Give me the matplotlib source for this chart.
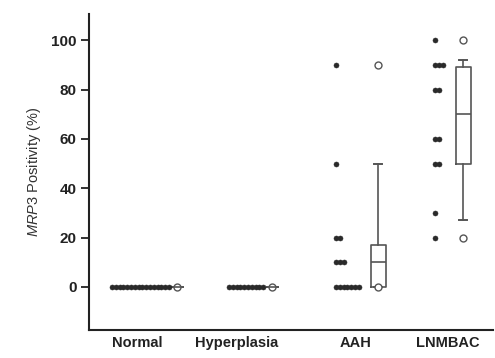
import numpy as np
import matplotlib
matplotlib.use("Agg")
import matplotlib.pyplot as plt

plt.rcParams["font.family"] = ["Liberation Sans", "DejaVu Sans"]
plt.rcParams["mathtext.fontset"] = "custom"
plt.rcParams["mathtext.it"] = "Liberation Sans:italic"
plt.rcParams["mathtext.rm"] = "Liberation Sans"

# data: values and number of cases at each value
categories = ["Normal", "Hyperplasia", "AAH", "LNMBAC"]
normal_vals = [0]
normal_counts = [16]
hyper_vals = [0]
hyper_counts = [10]
aah_vals = [0, 10, 20, 50, 90]
aah_counts = [7, 3, 2, 1, 1]
lnm_vals = [20, 30, 50, 60, 80, 90, 100]
lnm_counts = [1, 1, 2, 2, 2, 3, 1]

# box stats
box_lo = [0, 0, 0, 27]
box_q1 = [0, 0, 0, 50]
box_med = [0, 0, 10, 70]
box_q3 = [0, 0, 17, 89]
box_hi = [0, 0, 50, 92]
box_fliers = [[0], [0], [0, 90], [20, 100]]

# layout (x units ~ pixels from left spine)
dot_start = [23, 140, 247, 346]
box_pos = [88, 183, 289, 374]
label_pos = [48, 148, 267, 359]
dot_step = 3.8

fig = plt.figure(figsize=(4.95, 3.58), dpi=100)
ax = fig.add_axes([0.18, 0.078, 0.816, 0.882])

groups = [(normal_vals, normal_counts), (hyper_vals, hyper_counts),
          (aah_vals, aah_counts), (lnm_vals, lnm_counts)]
for (vals, counts), x0 in zip(groups, dot_start):
    for v, n in zip(vals, counts):
        xs = x0 + dot_step * np.arange(n)
        ax.plot(xs, [v] * n, "o", ms=3.6, color="#2a2a2a", mec="#2a2a2a", mew=0.4, zorder=3)

stats = []
for i in range(4):
    stats.append({"whislo": box_lo[i], "q1": box_q1[i], "med": box_med[i],
                  "q3": box_q3[i], "whishi": box_hi[i], "fliers": box_fliers[i]})
lc = "#555555"
ax.bxp(stats, positions=box_pos, widths=[11, 11, 15, 15], capwidths=[11, 11, 8, 8],
       showfliers=True, manage_ticks=False,
       boxprops=dict(color=lc, lw=1.2),
       medianprops=dict(color=lc, lw=1.2),
       whiskerprops=dict(color=lc, lw=1.2),
       capprops=dict(color=lc, lw=1.4),
       flierprops=dict(marker="o", ms=5, mfc="white", mec=lc, mew=1.0))

ax.set_xlim(0, 404)
ax.set_ylim(-17.5, 110.5)
ax.set_yticks([0, 20, 40, 60, 80, 100])
ax.set_yticklabels(["0", "20", "40", "60", "80", "100"], fontweight="bold", fontsize=11, color="#222222")
ax.set_xticks(label_pos)
ax.set_xticklabels(categories, fontweight="bold", fontsize=10.5, color="#222222")
ax.tick_params(axis="x", length=0, pad=4)
ax.tick_params(axis="y", length=6, width=1.3, direction="out", pad=3, color="#222222")
ax.spines["top"].set_visible(False)
ax.spines["right"].set_visible(False)
for s in ["left", "bottom"]:
    ax.spines[s].set_linewidth(1.5)
    ax.spines[s].set_color("#222222")
ax.set_ylabel(r"$\it{MRP3}$ Positivity (%)", fontsize=10.5, color="#333333", labelpad=6)

fig.savefig("out.png", dpi=100)
